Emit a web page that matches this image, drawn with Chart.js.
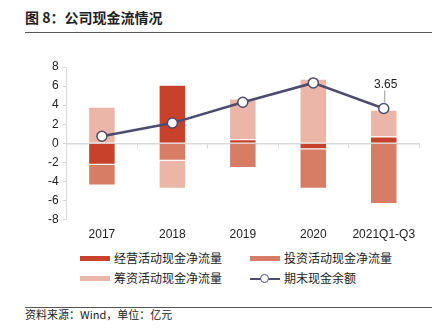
<!DOCTYPE html>
<html>
<head>
<meta charset="utf-8">
<script src="https://cdn.jsdelivr.net/npm/chart.js@4"></script>
<style>
  body { margin: 0; width: 443px; height: 333px; background: #fff; position: relative; overflow: hidden;
         font-family: "Liberation Sans", "Noto Sans CJK SC", sans-serif; color: #222; }
  #title { position: absolute; left: 25px; top: 7px; font-size: 14px; font-weight: bold;
           font-family: "Noto Sans CJK SC", sans-serif; }
  #rule-top { position: absolute; left: 25px; top: 32px; width: 407px; height: 1px; background: #555; }
  #rule-bot { position: absolute; left: 25px; top: 307px; width: 407px; height: 1px; background: #555; }
  #source { position: absolute; left: 25px; top: 306px; font-size: 11px; font-family: "Noto Sans CJK SC", sans-serif; }
  #chart-box { position: absolute; left: 0; top: 40px; width: 443px; height: 202px; }
  #legend { position: absolute; left: 80px; top: 249px; width: 340px; font-size: 12px;
            font-family: "Noto Sans CJK SC", sans-serif; }
  .item { position: absolute; height: 18px; line-height: 18px; white-space: nowrap; }
  .swatch { display: inline-block; width: 30px; height: 5px; vertical-align: middle; margin-right: 4px; position: relative; top: -1px; }
</style>
</head>
<body>
<div id="title">图 8：公司现金流情况</div>
<div id="rule-top"></div>
<div id="chart-box"><canvas id="cash-chart"></canvas></div>
<div id="legend"></div>
<div id="rule-bot"></div>
<div id="source">资料来源：Wind，单位：亿元</div>
<script>
const categories = ["2017", "2018", "2019", "2020", "2021Q1-Q3"];
const operating = [-2.26, 6.15, 0.42, -0.62, 0.7];
const investing = [-2.16, -1.84, -2.58, -4.15, -6.36];
const financing = [3.82, -2.93, 4.28, 6.78, 2.83];
const ending_cash = [0.74, 2.12, 4.31, 6.33, 3.65];
const y_ticks = [-8, -6, -4, -2, 0, 2, 4, 6, 8];

const series_names = ["经营活动现金净流量", "投资活动现金净流量", "筹资活动现金净流量", "期末现金余额"];
const colors = ["#C8412A", "#D77D66", "#EBB6A7", "#4D4C70"];

// label above the last point with a short leader line
const last_label = {
  id: "lastLabel",
  afterDatasetsDraw(chart) {
    const meta = chart.getDatasetMeta(3);
    const pt = meta.data[meta.data.length - 1];
    const ctx = chart.ctx;
    ctx.save();
    ctx.strokeStyle = "#999";
    ctx.lineWidth = 1;
    ctx.beginPath();
    ctx.moveTo(pt.x + 1, pt.y - 6);
    ctx.lineTo(pt.x + 1, pt.y - 18);
    ctx.stroke();
    ctx.fillStyle = "#222";
    ctx.font = "12px 'Liberation Sans', sans-serif";
    ctx.textAlign = "center";
    ctx.textBaseline = "bottom";
    ctx.fillText(ending_cash[ending_cash.length - 1].toFixed(2), pt.x + 2, pt.y - 18);
    ctx.restore();
  }
};

new Chart(document.getElementById("cash-chart"), {
  data: {
    labels: categories,
    datasets: [
      { type: "bar", label: series_names[0], data: operating, backgroundColor: colors[0], borderColor: "#fff", borderWidth: 1, order: 2 },
      { type: "bar", label: series_names[1], data: investing, backgroundColor: colors[1], borderColor: "#fff", borderWidth: 1, order: 2 },
      { type: "bar", label: series_names[2], data: financing, backgroundColor: colors[2], borderColor: "#fff", borderWidth: 1, order: 2 },
      { type: "line", label: series_names[3], data: ending_cash, borderColor: colors[3], borderWidth: 2.5,
        pointBackgroundColor: "#fff", pointBorderColor: colors[3], pointBorderWidth: 1.5, pointRadius: 5,
        stack: "line", order: 1 }
    ]
  },
  options: {
    responsive: true,
    maintainAspectRatio: false,
    animation: false,
    layout: { padding: { left: 44, right: 24, top: 27, bottom: 0 } },
    datasets: { bar: { barPercentage: 0.39, categoryPercentage: 1 } },
    plugins: { legend: { display: false }, tooltip: { enabled: false } },
    scales: {
      x: {
        stacked: true,
        grid: { display: false },
        border: { display: false },
        ticks: { color: "#222", font: { size: 12, family: "Liberation Sans" }, padding: 0 }
      },
      x2: {
        type: "category",
        position: { y: 0 },
        offset: true,
        grid: { drawOnChartArea: false, drawTicks: true, tickLength: 4, color: "#d9d9d9", offset: true },
        border: { display: true, color: "#d9d9d9", width: 1.5 },
        ticks: { display: false }
      },
      y: {
        stacked: true,
        min: -8,
        max: 8,
        afterBuildTicks: axis => { axis.ticks = y_ticks.map(v => ({ value: v })); },
        grid: { drawOnChartArea: false, drawTicks: true, tickLength: 4, color: "#d9d9d9" },
        border: { display: true, color: "#d9d9d9" },
        ticks: { color: "#222", font: { size: 12, family: "Liberation Sans" }, padding: 4 }
      }
    }
  },
  plugins: [last_label]
});

// legend in two columns
const legend = document.getElementById("legend");
const spots = [[0, 0], [170, 0], [0, 20], [170, 20]];
series_names.forEach((name, i) => {
  const item = document.createElement("div");
  item.className = "item";
  item.style.left = spots[i][0] + "px";
  item.style.top = spots[i][1] + "px";
  if (i < 3) {
    item.innerHTML = `<span class="swatch" style="background:${colors[i]}"></span>${name}`;
  } else {
    item.innerHTML = `<span class="swatch" style="height:2px;background:${colors[3]};top:-1px">` +
      `<span style="position:absolute;left:10px;top:-4px;width:7px;height:7px;border-radius:50%;background:#fff;border:1.5px solid ${colors[3]}"></span>` +
      `</span>${name}`;
  }
  legend.appendChild(item);
});
</script>
</body>
</html>
